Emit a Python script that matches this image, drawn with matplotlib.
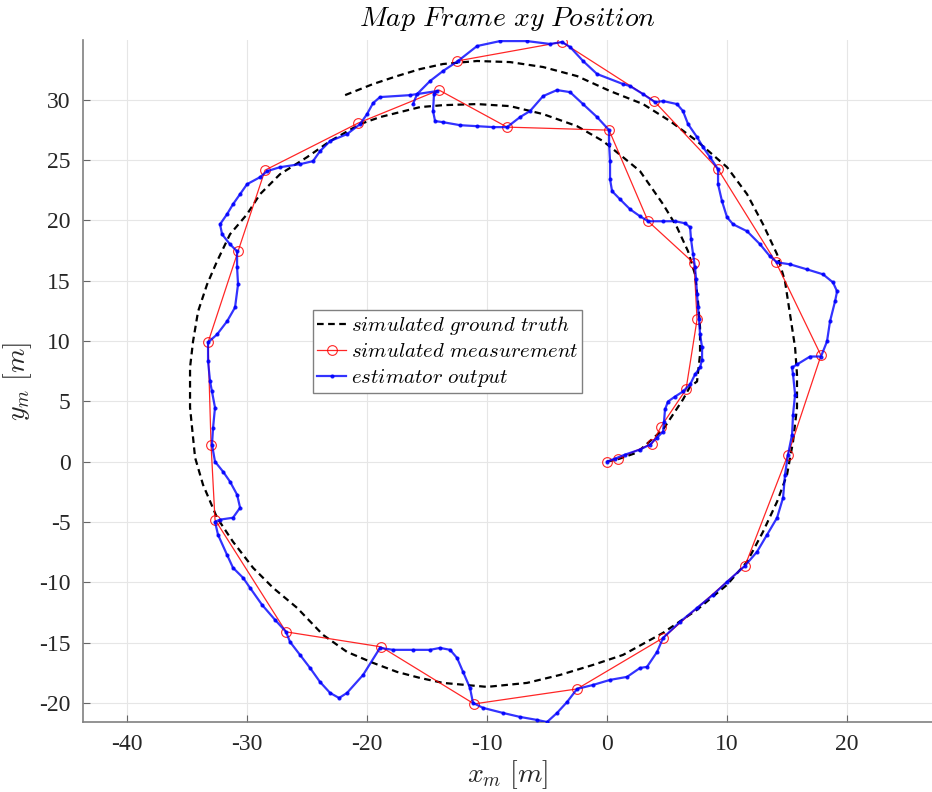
import matplotlib
matplotlib.use("Agg")
import matplotlib.pyplot as plt
import numpy as np

gt_x = [0.0, 0.83, 2.5, 4.67, 6.33, 6.92, 7.5, 7.75, 7.75, 7.58, 7.33, 6.75, 5.83, 4.67,
        3.33, 2.75, 1.33, -0.33, -2.5, -5.33, -8.08, -10.83, -13.67, -15.58, -18.92,
        -20.58, -23.08, -25.0, -27.25, -28.92, -30.0, -31.42, -32.5, -33.33, -34.08,
        -34.5, -34.75, -34.75, -34.33, -33.67, -32.5, -31.17, -29.5, -27.83, -25.83,
        -23.67, -21.67, -19.5, -17.5, -15.58, -13.67, -10.0, -6.67, -3.92, -1.17, 1.33,
        4.67, 7.5, 10.0, 11.67, 13.0, 14.17, 15.0, 15.5, 15.83, 15.83, 15.67, 15.25,
        14.83, 14.17, 13.0, 11.67, 10.0, 7.5, 5.25, 3.0, 0.25, -2.5, -5.33, -8.08,
        -10.83, -13.67, -15.58, -17.5, -19.5, -21.83]
gt_y = [0.0, 0.17, 0.75, 2.66, 5.15, 6.22, 6.64, 8.88, 11.12, 13.28, 15.52, 17.43, 19.42,
        21.33, 23.24, 24.07, 25.23, 26.56, 27.8, 28.8, 29.46, 29.63, 29.54, 29.38,
        28.55, 27.97, 26.56, 25.23, 23.82, 22.16, 20.5, 18.84, 16.6, 14.69, 12.45,
        9.96, 7.8, 4.48, 0.33, -1.91, -4.65, -6.64, -8.8, -10.46, -12.12, -14.36,
        -15.77, -16.68, -17.43, -17.93, -18.34, -18.67, -18.34, -17.68, -16.85,
        -16.02, -14.19, -12.28, -10.21, -8.3, -5.81, -3.32, -1.08, 1.66, 4.48, 7.22,
        9.46, 12.2, 14.94, 17.18, 19.67, 22.16, 24.4, 26.56, 28.22, 29.63, 30.71,
        31.95, 32.7, 33.11, 33.2, 32.95, 32.53, 31.95, 31.29, 30.37]

# simulated measurements
meas_x = [0.0, 0.92, 3.75, 4.5, 6.58, 7.5, 7.25, 3.42, 0.17, -8.33, -14.0, -20.75, -28.5,
          -30.75, -33.25, -33.0, -32.67, -26.75, -18.83, -11.08, -2.5, 4.67, 11.5, 15.08,
          17.83, 14.08, 9.25, 3.92, -3.75, -12.5]
meas_y = [0.0, 0.25, 1.49, 2.9, 5.98, 11.78, 16.43, 19.92, 27.47, 27.72, 30.79, 28.05,
          24.15, 17.43, 9.88, 1.41, -4.81, -14.11, -15.35, -20.08, -18.84, -14.61, -8.63,
          0.58, 8.8, 16.51, 24.23, 29.88, 34.77, 33.2]

# estimator output
est_x = [0.0, 0.67, 1.5, 2.75, 3.58, 4.17, 4.67, 4.75, 4.83, 5.08, 5.67, 6.33, 6.92, 7.33,
         7.75, 7.92, 7.92, 7.75, 7.67, 7.58, 7.5, 7.42, 7.33, 7.17, 7.0, 6.92, 6.5, 5.67,
         4.67, 3.42, 2.75, 1.92, 1.08, 0.42, 0.25, 0.25, 0.17, 0.17, -0.83, -2.0, -3.08,
         -4.17, -5.33, -6.42, -7.25, -8.33, -9.5, -10.83, -12.25, -13.67, -14.33, -14.5,
         -14.42, -14.17, -16.42, -18.92, -19.5, -20.0, -20.58, -21.67, -23.08, -23.92,
         -24.5, -25.58, -27.25, -28.33, -28.92, -30.0, -30.58, -31.17, -31.67, -32.25,
         -32.08, -31.42, -30.83, -30.83, -30.75, -31.0, -31.67, -32.5, -33.25, -33.25,
         -33.08, -32.92, -32.67, -32.83, -32.92, -32.67, -32.0, -31.42, -30.83, -30.58,
         -31.17, -32.25, -32.67, -32.42, -31.67, -31.17, -30.33, -29.75, -28.75, -27.67,
         -26.75, -26.42, -25.58, -24.75, -23.92, -23.08, -22.33, -21.67, -20.33, -18.92,
         -17.83, -16.17, -14.75, -13.92, -13.08, -12.5, -12.0, -11.42, -11.17, -10.33,
         -8.67, -7.25, -5.83, -5.0, -4.17, -3.33, -2.5, -1.17, 0.25, 1.67, 2.75, 3.33,
         4.17, 4.67, 6.08, 7.5, 8.83, 10.0, 11.5, 12.5, 13.33, 14.17, 14.67, 14.83, 15.08,
         15.42, 15.5, 15.67, 15.5, 15.42, 15.83, 16.92, 17.83, 18.33, 18.58, 19.0, 19.17,
         18.83, 18.0, 16.67, 15.25, 14.17, 13.58, 12.75, 11.67, 10.5, 10.0, 9.58, 9.25,
         9.25, 8.58, 8.0, 7.5, 6.75, 6.33, 5.83, 4.67, 4.0, 3.0, 1.92, 1.33, -0.83, -2.0,
         -3.08, -3.75, -4.75, -6.67, -8.92, -10.83, -12.42, -13.67, -14.75, -15.83, -16.17]
est_y = [0.0, 0.25, 0.58, 1.0, 1.41, 1.99, 2.49, 3.32, 4.32, 4.98, 5.39, 5.81, 6.39, 7.22,
         7.8, 8.46, 9.46, 10.54, 11.78, 12.78, 13.86, 15.1, 16.1, 17.18, 18.42, 19.42,
         19.75, 19.92, 19.92, 19.92, 20.33, 20.91, 21.74, 22.41, 23.4, 24.9, 26.31, 27.47,
         28.55, 29.63, 30.62, 30.79, 30.29, 29.05, 28.55, 27.72, 27.72, 27.8, 27.88,
         28.13, 28.22, 29.05, 30.46, 30.71, 30.37, 30.21, 29.71, 28.8, 27.97, 27.14,
         26.56, 25.73, 24.9, 24.65, 24.4, 24.07, 23.57, 22.99, 22.16, 21.33, 20.5, 19.67,
         18.84, 18.01, 17.43, 16.1, 14.69, 12.78, 11.62, 10.54, 9.88, 8.3, 6.64, 5.81,
         4.48, 2.82, 1.41, 0.0, -0.83, -1.66, -2.74, -3.82, -4.65, -4.81, -4.98, -6.06,
         -7.72, -8.8, -9.63, -10.46, -11.87, -13.11, -14.11, -14.94, -16.02, -17.1,
         -18.26, -19.17, -19.59, -19.17, -17.68, -15.44, -15.6, -15.6, -15.6, -15.44,
         -15.6, -16.27, -17.43, -18.76, -20.0, -20.41, -20.83, -21.16, -21.41, -21.58,
         -20.83, -19.92, -18.84, -18.51, -18.09, -17.84, -17.1, -17.01, -15.77, -14.61,
         -13.28, -12.12, -11.04, -9.96, -8.63, -7.47, -6.06, -4.65, -2.99, -1.08, 0.58,
         2.24, 3.9, 5.56, 7.22, 7.8, 8.05, 8.71, 8.71, 9.96, 11.62, 13.28, 14.11, 14.85,
         15.52, 15.93, 16.35, 16.51, 17.01, 18.01, 19.09, 19.67, 20.25, 21.58, 22.99,
         24.23, 25.23, 26.06, 26.89, 27.97, 29.05, 29.63, 29.88, 29.79, 30.46, 31.12,
         31.29, 32.12, 33.2, 34.36, 34.77, 34.61, 34.85, 34.85, 34.44, 33.2, 32.37, 31.54,
         30.46, 29.63]

x_ticks = [-40, -30, -20, -10, 0, 10, 20]
y_ticks = [-20, -15, -10, -5, 0, 5, 10, 15, 20, 25, 30]

plt.rcParams['mathtext.fontset'] = 'cm'
plt.rcParams['font.family'] = ['Liberation Serif', 'DejaVu Serif']
plt.rcParams['axes.unicode_minus'] = False

fig = plt.figure(figsize=(9.32, 7.92), dpi=100)
ax = fig.add_axes([83 / 932, 1 - 722 / 792, 1 - 83 / 932, (722 - 40) / 792])

ax.plot(gt_x, gt_y, color='k', lw=1.6, linestyle=(0, (3, 2)),
        label=r'$simulated\ ground\ truth$', zorder=2)
ax.plot(meas_x, meas_y, color='r', lw=0.9, alpha=0.85, marker='o', ms=7, mfc='none',
        mec='r', mew=0.8, label=r'$simulated\ measurement$', zorder=3)
ax.plot(est_x, est_y, color=(0, 0, 1), lw=1.6, alpha=0.8, marker='.', ms=4,
        label=r'$estimator\ output$', zorder=4)

ax.set_xlim(-43.67, 27.08)
ax.set_ylim(-21.58, 34.94)
ax.set_xticks(x_ticks)
ax.set_yticks(y_ticks)
ax.grid(True, color=(0.9, 0.9, 0.9), lw=0.8)
ax.set_axisbelow(True)
for s in ['top', 'right']:
    ax.spines[s].set_visible(False)
for s in ['left', 'bottom']:
    ax.spines[s].set_color((0.5, 0.5, 0.5))
    ax.spines[s].set_linewidth(1.2)
ax.tick_params(direction='in', length=5, color=(0.4, 0.4, 0.4), labelsize=17,
               labelcolor=(0.15, 0.15, 0.15), pad=9)

ax.set_title(r'$Map\ Frame\ xy\ Position$', fontsize=20, pad=10)
ax.set_xlabel(r'$x_m\ [m]$', fontsize=20, labelpad=2, color=(0.15, 0.15, 0.15))
ax.set_ylabel(r'$y_m\ [m]$', fontsize=20, color=(0.15, 0.15, 0.15))
ax.yaxis.set_label_coords(-0.058, 0.5)

leg = ax.legend(loc='upper left', bbox_to_anchor=(0.271, 0.604), borderaxespad=0,
                fontsize=15, fancybox=False, framealpha=1, handlelength=1.4,
                handletextpad=0.2, labelspacing=0.25, borderpad=0.2)
leg.get_frame().set_edgecolor((0.5, 0.5, 0.5))
leg.get_frame().set_linewidth(1.0)

fig.savefig('out.png', dpi=100)
